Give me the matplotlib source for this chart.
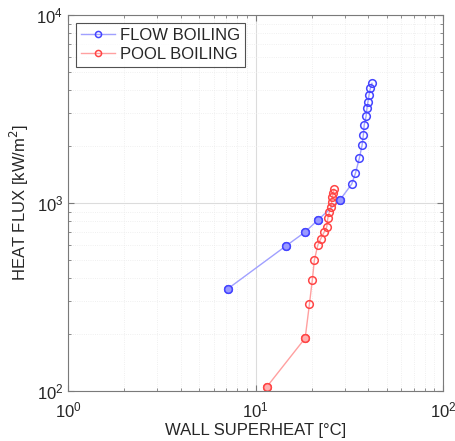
import matplotlib
matplotlib.use('Agg')
import matplotlib.pyplot as plt
from matplotlib.ticker import LogLocator, NullFormatter

plt.rcParams['font.family'] = ['Liberation Sans', 'DejaVu Sans']

# flow boiling: wall superheat [C] vs heat flux [kW/m2]
flow_dt = [7.1, 14.5, 18.4, 21.5, 28.2, 32.6, 34.1, 35.8, 37.0, 37.6, 38.0,
           38.9, 39.3, 39.8, 40.3, 41.0, 41.8]
flow_q = [349, 590, 701, 812, 1037, 1262, 1438, 1729, 2027, 2300, 2600,
          2900, 3190, 3460, 3750, 4076, 4330]

# pool boiling
pool_dt = [11.47, 18.4, 19.4, 20.1, 20.6, 21.5, 22.3, 23.2, 24.0, 24.3, 24.8,
           25.2, 25.5, 25.7, 26.0, 26.2]
pool_q = [105, 191, 291, 391, 496, 598, 646, 698, 748, 829, 899,
          955, 1016, 1081, 1126, 1183]

txt = '#262626'
fig = plt.figure(figsize=(4.55, 4.41), dpi=100)
ax = fig.add_axes([68/455, 50/441, 375/455, 376/441])

ax.plot(flow_dt, flow_q, '-o', color='#a0a0ff', lw=1.0, mec='#4545ff',
        mfc='none', ms=5.5, mew=1.1, label='FLOW BOILING')
ax.plot(pool_dt, pool_q, '-o', color='#ffa0a0', lw=1.0, mec='#ff4545',
        mfc='none', ms=5.5, mew=1.1, label='POOL BOILING')
# lower points look shaded in the original
ax.plot(flow_dt[:5], flow_q[:5], 'o', mec='#4545ff', mfc='#9a9aff', ms=5.5, mew=1.1)
ax.plot(pool_dt[:2], pool_q[:2], 'o', mec='#ff4545', mfc='#ffb0b0', ms=5.5, mew=1.1)

ax.set_xscale('log')
ax.set_yscale('log')
ax.set_xlim(1, 100)
ax.set_ylim(100, 1e4)

ax.xaxis.set_minor_locator(LogLocator(base=10, subs=range(2, 10)))
ax.yaxis.set_minor_locator(LogLocator(base=10, subs=range(2, 10)))
ax.xaxis.set_minor_formatter(NullFormatter())
ax.yaxis.set_minor_formatter(NullFormatter())

ax.grid(True, which='major', color='#dcdcdc', lw=0.8)
ax.grid(True, which='minor', color='#ebebeb', lw=0.6, ls=':')
ax.set_axisbelow(True)

for s in ax.spines.values():
    s.set_color('#7a7a7a')
    s.set_linewidth(0.8)
ax.tick_params(which='both', direction='in', colors='#7a7a7a', labelcolor=txt,
               labelsize=12, top=True, right=True)
ax.tick_params(which='major', length=4)
ax.tick_params(which='minor', length=2)
ax.tick_params(axis='x', pad=7)

ax.set_xlabel('WALL SUPERHEAT [°C]', fontsize=12, color=txt, labelpad=2)
ax.set_ylabel('HEAT FLUX [kW/m$^2$]', fontsize=12, color=txt)

leg = ax.legend(loc='upper left', fontsize=12, frameon=True, fancybox=False,
                edgecolor='#262626', handlelength=2.0, borderpad=0.3,
                labelspacing=0.2, handletextpad=0.3, markerscale=0.8)
leg.get_frame().set_linewidth(0.8)
for t in leg.get_texts():
    t.set_color(txt)

fig.savefig('out.png', dpi=100)
